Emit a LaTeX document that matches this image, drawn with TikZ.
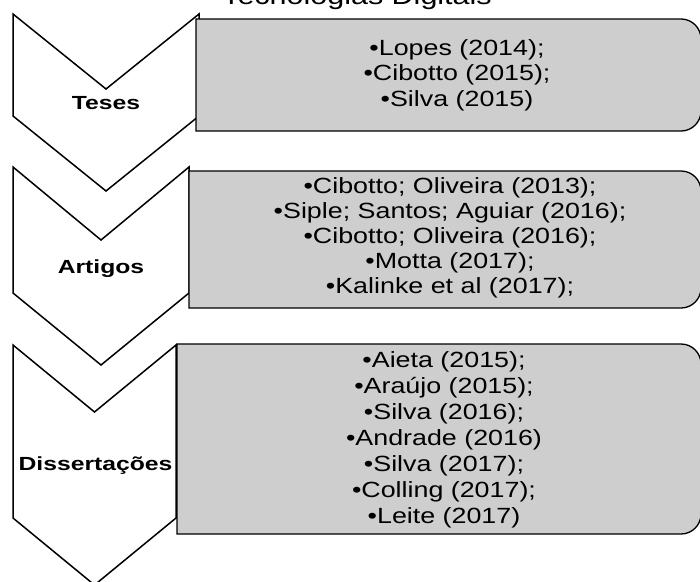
\documentclass[tikz,border=0pt]{standalone}
\usepackage{fontspec}
\setmainfont{Liberation Sans}
\newfontfamily\boxfont[FakeStretch=1.22]{Liberation Sans}
\newfontfamily\lblfont[FakeStretch=1.3]{Liberation Sans}
\definecolor{boxgray}{HTML}{CECECE}
\tikzset{
  chev/.style={draw=black, line width=1.5pt, fill=white, line join=miter},
  listbox/.style={draw=black, line width=1.3pt, fill=boxgray},
  boxtxt/.style={anchor=base, inner sep=0pt, font=\boxfont\fontsize{22}{25}\selectfont, text=black},
  lbl/.style={anchor=base, inner sep=0pt, font=\lblfont\bfseries\fontsize{19}{22}\selectfont},
  ttl/.style={anchor=base, inner sep=0pt, font=\boxfont\fontsize{25}{28}\selectfont}
}
\begin{document}
\begin{tikzpicture}[x=1pt,y=-1pt]
\useasboundingbox (0,0) rectangle (700,581);
\clip (0,0) rectangle (700,581);
\fill[white] (0,0) rectangle (700,581);
% title
\node[ttl] (title) at (357,4) {Tecnologias Digitais};
% chevrons
\draw[chev] (13,14) -- (106,89) -- (199,14) -- (199,116) -- (106,191) -- (13,116) -- cycle;
\draw[chev] (13,167) -- (101,240) -- (189,167) -- (189,293) -- (101,365) -- (13,293) -- cycle;
\draw[chev] (13,345) -- (94.5,412) -- (176,345) -- (176,518) -- (94.5,585) -- (13,518) -- cycle;
% boxes
\draw[listbox] (196,19) [rounded corners=20pt] -- (701,19) -- (701,131) [sharp corners] -- (196,131) -- cycle;
\draw[listbox] (189,171) [rounded corners=20pt] -- (701,171) -- (701,308) [sharp corners] -- (189,308) -- cycle;
\draw[listbox] (177,344) [rounded corners=20pt] -- (701,344) -- (701,534) [sharp corners] -- (177,534) -- cycle;
% labels
\node[lbl] (teses) at (106,109) {Teses};
\node[lbl] (artigos) at (101,273) {Artigos};
\node[lbl] (diss) at (95.5,470) {Dissertações};
% box 1
\foreach \t [count=\i] in {{•Lopes (2014);},{•Cibotto (2015);},{•Silva (2015)}}
  \node[boxtxt] (ba-\i) at (457,{55+25.5*(\i-1)}) {\t};
% box 2
\foreach \t [count=\i] in {{•Cibotto; Oliveira (2013);},{•Siple; Santos; Aguiar (2016);},{•Cibotto; Oliveira (2016);},{•Motta (2017);},{•Kalinke et al (2017);}}
  \node[boxtxt] (bb-\i) at (450,{193+25*(\i-1)}) {\t};
% box 3
\foreach \t [count=\i] in {{•Aieta (2015);},{•Araújo (2015);},{•Silva (2016);},{•Andrade (2016)},{•Silva (2017);},{•Colling (2017);},{•Leite (2017)}}
  \node[boxtxt] (bc-\i) at (444,{367+26*(\i-1)}) {\t};
\end{tikzpicture}
\end{document}
